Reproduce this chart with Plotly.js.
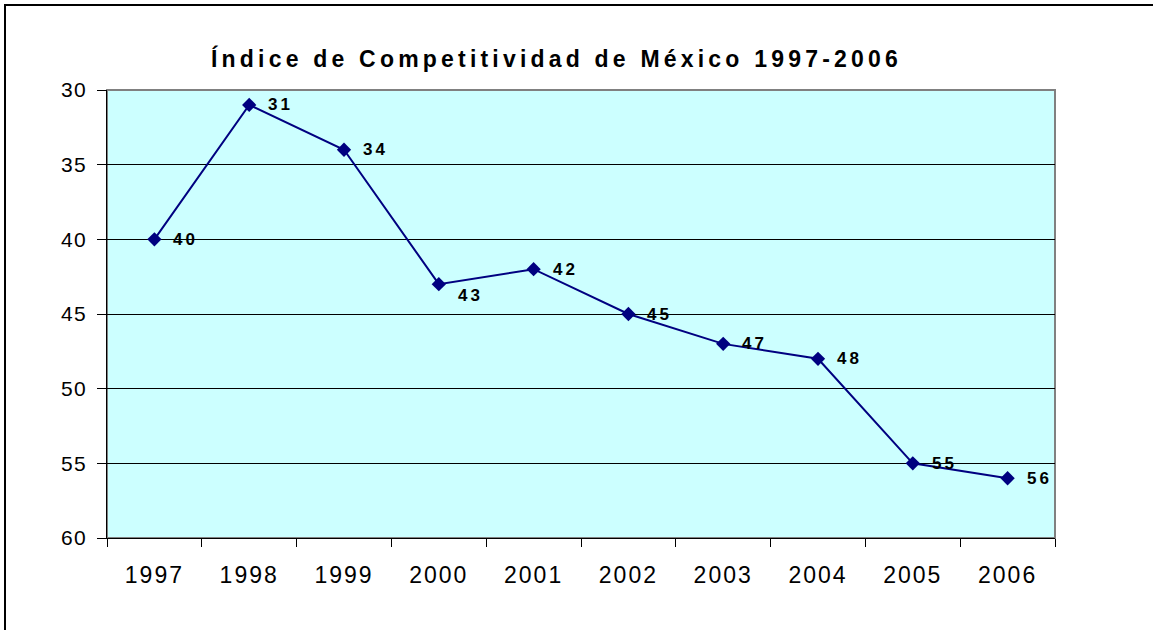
<!DOCTYPE html>
<html>
<head>
<meta charset="utf-8">
<script src="https://cdn.plot.ly/plotly-3.0.1.min.js"></script>
<style>
  html, body { margin: 0; padding: 0; background: #fff; }
  #wrap { position: relative; width: 1153px; height: 630px; overflow: hidden; }
  #chart { width: 1153px; height: 630px; }
  #frame { position: absolute; left: 4px; top: 4px; width: 1300px; height: 800px;
           border: 2px solid #000; pointer-events: none; }
  .xtick text { letter-spacing: 2px; }
  .ytick text { letter-spacing: 1.2px; }
  .gtitle { letter-spacing: 4.2px; }
  .annotation-text { letter-spacing: 3px; }
</style>
</head>
<body>
<div id="wrap">
  <div id="chart"></div>
  <div id="frame"></div>
</div>
<script>
// Data
const years = ['1997', '1998', '1999', '2000', '2001', '2002', '2003', '2004', '2005', '2006'];
const ranking = [40, 31, 34, 43, 42, 45, 47, 48, 55, 56];
const yTicks = [30, 35, 40, 45, 50, 55, 60];
const chartTitle = 'Índice de Competitividad de México 1997-2006';

const FONT = 'Arial, "Liberation Sans", sans-serif';
const NAVY = '#000080';

// label vertical nudges (pixels), by year
const labelNudge = { '2000': -11 };

const trace = {
  type: 'scatter',
  mode: 'lines+markers',
  x: years,
  y: ranking,
  line: { color: NAVY, width: 2 },
  marker: { symbol: 'diamond', size: 11, color: NAVY },
  hoverinfo: 'x+y'
};

// category axis: annotation x uses the category's serial index
const annotations = years.map((yr, i) => ({
  x: i,
  y: ranking[i],
  xref: 'x',
  yref: 'y',
  text: String(ranking[i]),
  showarrow: false,
  xanchor: 'left',
  yanchor: 'middle',
  xshift: 17,
  yshift: labelNudge[yr] || 0,
  font: { family: FONT, size: 17, color: '#000', weight: 'bold' }
}));

const layout = {
  width: 1153,
  height: 630,
  margin: { l: 107, r: 98, t: 90, b: 92 },
  paper_bgcolor: '#ffffff',
  plot_bgcolor: '#CCFFFF',
  showlegend: false,
  title: {
    text: chartTitle,
    font: { family: FONT, size: 23, color: '#000', weight: 'bold' },
    xref: 'container',
    x: 211 / 1153,
    xanchor: 'left',
    y: 1 - 59 / 630,
    yanchor: 'middle'
  },
  xaxis: {
    type: 'category',
    categoryarray: years,
    range: [-0.5, years.length - 0.5],
    autorange: false,
    tickson: 'boundaries',
    ticks: 'outside',
    ticklen: 8,
    tickcolor: '#000',
    tickwidth: 1,
    tickangle: 0,
    showgrid: false,
    showline: true,
    linecolor: '#000',
    linewidth: 1,
    ticklabelstandoff: 16,
    tickfont: { family: FONT, size: 23, color: '#000' },
    fixedrange: true
  },
  yaxis: {
    range: [60, 30],
    autorange: false,
    tickvals: yTicks,
    ticktext: yTicks.map(String),
    ticks: 'outside',
    ticklen: 9,
    tickcolor: '#000',
    tickwidth: 1,
    showgrid: true,
    gridcolor: '#000',
    gridwidth: 1,
    zeroline: false,
    showline: true,
    linecolor: '#000',
    linewidth: 1,
    ticklabelstandoff: 6,
    tickfont: { family: FONT, size: 21, color: '#000' },
    fixedrange: true
  },
  shapes: [{
    type: 'rect',
    xref: 'paper', yref: 'paper',
    x0: 0, x1: 1, y0: 0, y1: 1,
    line: { color: '#808080', width: 2 },
    fillcolor: 'rgba(0,0,0,0)',
    layer: 'between'
  }],
  annotations: annotations
};

Plotly.newPlot('chart', [trace], layout, { displayModeBar: false, staticPlot: true });
</script>
</body>
</html>
